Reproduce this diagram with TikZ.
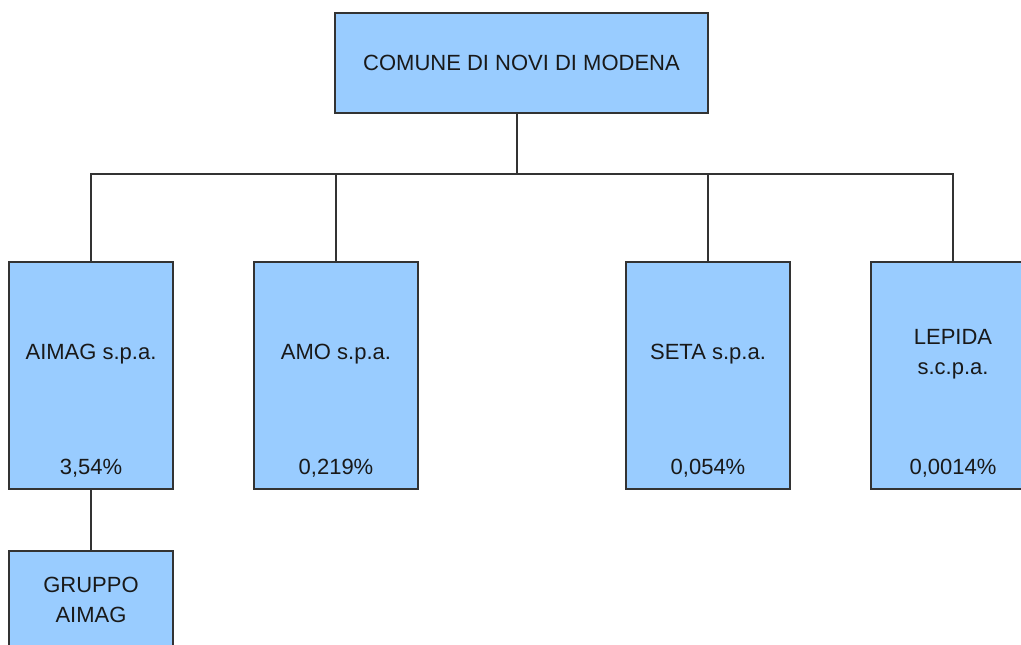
\documentclass[tikz,border=0pt]{standalone}
\usepackage{fontspec}
\setmainfont{Liberation Sans}
\usetikzlibrary{positioning}
\definecolor{boxblue}{HTML}{99CCFF}
\definecolor{boxline}{HTML}{333333}

\begin{document}
\begin{tikzpicture}[x=1pt, y=1pt, node distance=60pt,
        box/.style={draw=boxline, line width=1.8pt, fill=boxblue, minimum width=164pt, minimum height=227pt, inner sep=0pt},
        label text/.style={align=center, font=\fontsize{22}{30}\selectfont, text=black!90},
        link/.style={draw=boxline, line width=1.8pt}]
        \useasboundingbox (0,0) rectangle (1021,645);
        \clip (0,0) rectangle (1021,645);

        % Node definitions
        \node (top) [box, minimum width=373pt, minimum height=100pt, label text] at (521.5,582) {COMUNE DI NOVI DI MODENA};

        \node (aimag) [box] at (91,269.5) {};
        \node (amo) [box] at (336,269.5) {};
        \node (seta) [box] at (708,269.5) {};
        \node (lepida) [box] at (953,269.5) {};
        \node (gruppo) [box, below=of aimag] {};

        % Texts inside the boxes
        \node (aimag name) [label text] at ([yshift=21.5pt]aimag.center) {AIMAG s.p.a.};
        \node (aimag pct) [label text] at ([yshift=22pt]aimag.south) {3,54\%};
        \node (amo name) [label text] at ([yshift=21.5pt]amo.center) {AMO s.p.a.};
        \node (amo pct) [label text] at ([yshift=22pt]amo.south) {0,219\%};
        \node (seta name) [label text] at ([yshift=21.5pt]seta.center) {SETA s.p.a.};
        \node (seta pct) [label text] at ([yshift=22pt]seta.south) {0,054\%};
        \node (lepida name) [label text] at ([yshift=21.5pt]lepida.center) {LEPIDA\\s.c.p.a.};
        \node (lepida pct) [label text] at ([yshift=22pt]lepida.south) {0,0014\%};
        \node (gruppo name) [label text] at ([yshift=-50pt]gruppo.north) {GRUPPO\\AIMAG};

        % Connectors
        \draw[link] ([xshift=-4.5pt]top.south) -- ++(0,-60) coordinate (bus);
        \draw[link] (aimag.north) |- (bus) -| (lepida.north);
        \draw[link] (amo.north) -- (amo.north |- bus);
        \draw[link] (seta.north) -- (seta.north |- bus);
        \draw[link] (aimag.south) -- (gruppo.north);
\end{tikzpicture}
\end{document}
